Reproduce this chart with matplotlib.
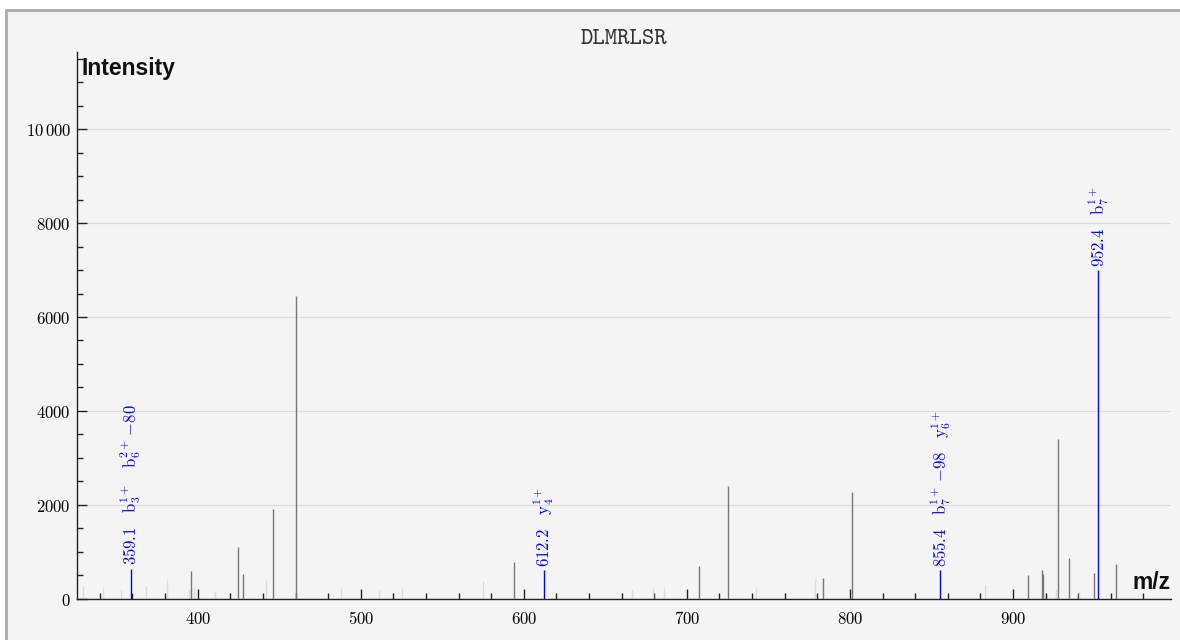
import matplotlib
matplotlib.use("Agg")
import matplotlib.pyplot as plt
from matplotlib.ticker import MultipleLocator, FuncFormatter
from matplotlib.patches import Rectangle

plt.rcParams['mathtext.fontset'] = 'cm'

title = "DLMRLSR"

# unannotated peaks, faint
light_mz = [329.8, 342.1, 353.0, 368.3, 381.0, 394.8, 397.9, 410.9, 442.1, 488.2, 511.3,
            525.1, 575.2, 666.2, 679.3, 686.2, 742.2, 778.3, 882.7, 926.5, 940.3]
light_int = [270, 220, 180, 270, 400, 180, 220, 170, 420, 240, 180,
             240, 370, 200, 220, 220, 220, 420, 290, 200, 170]

# unannotated peaks, dark
dark_mz = [396.0, 425.0, 428.0, 446.0, 460.0, 594.1, 707.2, 725.3, 783.3, 801.5,
           909.4, 917.8, 918.6, 927.4, 934.5, 949.7, 963.0]
dark_int = [590, 1100, 530, 1900, 6450, 790, 700, 2400, 440, 2270,
            505, 620, 520, 3400, 870, 540, 730]

# annotated fragment peaks
ann_mz = [359.1, 612.2, 855.4, 952.4]
ann_int = [640, 610, 610, 7000]
ann_labels = [
    ["359.1", r"\mathrm{b}_3^{1+}", r"\mathrm{b}_6^{2+}\,{-}80"],
    ["612.2", r"\mathrm{y}_4^{1+}"],
    ["855.4", r"\mathrm{b}_7^{1+}\,{-}98", r"\mathrm{y}_6^{1+}"],
    ["952.4", r"\mathrm{b}_7^{1+}"],
]

W, H = 1180, 640
fig = plt.figure(figsize=(W / 100, H / 100), dpi=100, facecolor='white')
# panel background with grey frame
fig.patches.append(Rectangle((6 / W, -0.1), 1.2, (H - 9.5) / H + 0.1, transform=fig.transFigure,
                             facecolor='#f4f4f4', edgecolor='#aaaaaa', lw=2, zorder=-10))

ax = fig.add_axes([76.5 / W, (H - 598.7) / H, (1170.7 - 76.5) / W, (598.7 - 51.7) / H])
ax.patch.set_alpha(0)

ax.vlines(light_mz, 0, light_int, colors='#dcdcdc', lw=1.0, zorder=2)
ax.vlines(dark_mz, 0, dark_int, colors='#777777', lw=1.0, zorder=3)
ax.vlines(ann_mz, 0, ann_int, colors='#0000ff', lw=1.0, zorder=4)

for mz, inten, labs in zip(ann_mz, ann_int, ann_labels):
    s = "$" + r"\quad ".join(labs) + "$"
    ax.annotate(s, (mz, inten), xytext=(0, 2.5), textcoords='offset points',
                rotation=90, ha='center', va='bottom', color='#0000ff', fontsize=12)

ax.set_xlim(325.7, 996.7)
ax.set_ylim(0, 11650)

for side in ['top', 'right']:
    ax.spines[side].set_visible(False)
for side in ['left', 'bottom']:
    ax.spines[side].set_color('#222222')
    ax.spines[side].set_linewidth(1.0)

ax.xaxis.set_major_locator(MultipleLocator(100))
ax.xaxis.set_minor_locator(MultipleLocator(20))
ax.yaxis.set_major_locator(MultipleLocator(2000))
ax.yaxis.set_minor_locator(MultipleLocator(500))


def yfmt(v, p):
    v = int(round(v))
    if v >= 10000:
        return "$" + format(v, ',').replace(',', r'\,') + "$"
    return "$%d$" % v


ax.yaxis.set_major_formatter(FuncFormatter(yfmt))
ax.xaxis.set_major_formatter(FuncFormatter(lambda v, p: "$%d$" % int(round(v))))

ax.tick_params(which='major', direction='in', length=7.5, width=1.0, color='#222222',
               labelsize=12, labelcolor='#000000')
ax.tick_params(which='minor', direction='in', length=4.5, width=1.0, color='#222222')
ax.tick_params(axis='x', which='major', pad=8)
ax.tick_params(axis='y', which='major', pad=4)

ax.yaxis.grid(True, which='major', color='#dddddd', lw=0.9)
ax.set_axisbelow(True)

ax.text(0.005, 0.99, "Intensity", transform=ax.transAxes, ha='left', va='top',
        fontsize=16.5, fontweight='bold', family='Liberation Sans', color='#111111')
ax.text(1.0, 0.008, "m/z", transform=ax.transAxes, ha='right', va='bottom',
        fontsize=16.5, fontweight='bold', family='Liberation Sans', color='#111111')

fig.text(623.6 / W, 1 - 39 / H, title, ha='center', va='center',
         fontsize=17, family='cmtt10', color='#333333')

fig.savefig("out.png", dpi=100, facecolor=fig.get_facecolor())
